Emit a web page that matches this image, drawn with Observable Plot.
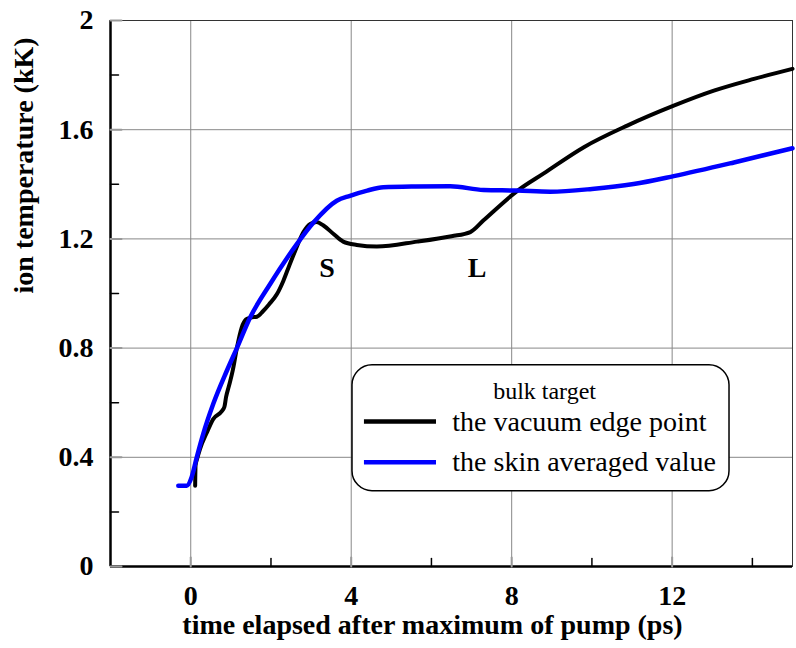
<!DOCTYPE html>
<html><head><meta charset="utf-8">
<script src="https://cdn.jsdelivr.net/npm/d3@7"></script>
<script src="https://cdn.jsdelivr.net/npm/@observablehq/plot@0.6"></script>
<style>body{margin:0;background:#fff} svg text{font-family:"Liberation Serif","Times New Roman",Times,serif !important;}</style>
</head><body><div id="chart"></div>
<script>
// vacuum edge point (black)
const edgeTime = [0.11,0.12,0.17,0.23,0.40,0.56,0.77,0.84,0.88,0.95,1.05,1.15,1.27,1.38,1.50,1.65,1.80,1.95,2.15,2.31,2.45,2.60,2.81,2.98,3.14,3.30,3.56,3.80,4.14,4.64,5.64,6.50,6.97,7.30,8.15,8.80,9.80,10.88,12.04,13.04,14.04,15.0];
const edgeTemp = [0.296,0.37,0.40,0.43,0.49,0.54,0.568,0.585,0.62,0.66,0.72,0.80,0.875,0.905,0.912,0.915,0.935,0.96,0.998,1.047,1.10,1.155,1.225,1.255,1.262,1.25,1.218,1.19,1.178,1.172,1.19,1.21,1.225,1.268,1.377,1.44,1.536,1.615,1.688,1.743,1.786,1.823];
// skin averaged value (blue)
const skinTime = [-0.31,-0.10,0.02,0.15,0.31,0.56,0.90,1.15,1.48,1.98,2.64,3.06,3.64,3.97,4.40,4.80,5.60,6.47,7.30,8.13,8.96,10.0,11.04,12.04,13.54,15.0];
const skinTemp = [0.296,0.296,0.326,0.40,0.485,0.595,0.717,0.80,0.912,1.035,1.18,1.26,1.34,1.358,1.377,1.389,1.392,1.393,1.379,1.377,1.373,1.383,1.401,1.43,1.48,1.532];

const xTicks = [0,4,8,12];
const yTicks = [0,0.4,0.8,1.2,1.6,2];
const xMinor = [2,6,10,14];
const yMinor = [0.2,0.6,1.0,1.4,1.8];
const xGrid = [0,4,8,12];
const yGrid = [0.4,0.8,1.2,1.6];
const seriesNames = ["the vacuum edge point","the skin averaged value"];
const seriesColors = ["black","#0000ff"];
const legendTitle = "bulk target";
const xLabel = "time elapsed after maximum of pump (ps)";
const yLabel = "ion temperature (kK)";
const annotations = [{label:"S", t:3.40, v:1.095},{label:"L", t:7.14, v:1.095}];

const edge = edgeTime.map((t,i)=>({t, v: edgeTemp[i]}));
const skin = skinTime.map((t,i)=>({t, v: skinTemp[i]}));
const tickShape = {draw(ctx, l){ ctx.moveTo(0,0); ctx.lineTo(0,-l); }};
const font = "'Liberation Serif', 'Times New Roman', serif";

const chart = Plot.plot({
  width: 796, height: 648,
  marginLeft: 110, marginRight: 4, marginTop: 20, marginBottom: 82,
  style: {fontFamily: font, background: "white"},
  x: {domain: [-2, 15]},
  y: {domain: [0, 2]},
  marks: [
    Plot.ruleX(xGrid, {stroke: "#888", strokeWidth: 1}),
    Plot.ruleY(yGrid, {stroke: "#888", strokeWidth: 1}),
    Plot.frame({stroke: "#333", strokeWidth: 1}),
    Plot.ruleX([-2], {stroke: "black", strokeWidth: 2.5}),
    Plot.ruleY([0], {stroke: "black", strokeWidth: 2.5}),
    Plot.vector(yMinor, {y: d=>d, frameAnchor: "left", rotate: 90, length: 8, anchor: "start", shape: tickShape, stroke: "black", strokeWidth: 1.5}),
    Plot.vector(yTicks, {y: d=>d, frameAnchor: "left", rotate: 90, length: 11, anchor: "start", shape: tickShape, stroke: "#999", strokeWidth: 2}),
    Plot.vector(xMinor, {x: d=>d, frameAnchor: "bottom", rotate: 0, length: 8, anchor: "start", shape: tickShape, stroke: "black", strokeWidth: 1.5}),
    Plot.vector(xTicks, {x: d=>d, frameAnchor: "bottom", rotate: 0, length: 9, anchor: "start", shape: tickShape, stroke: "#999", strokeWidth: 2}),
    Plot.axisY(yTicks, {tickSize: 0, tickPadding: 17, fontSize: 28, fontWeight: "bold", tickFormat: d => String(d), label: null}),
    Plot.axisX(xTicks, {tickSize: 0, tickPadding: 19, fontSize: 28, fontWeight: "bold", tickFormat: d => String(d), label: null}),
    Plot.text([yLabel], {text: d=>d, frameAnchor: "left", rotate: -90, dx: -86, fontSize: 28, fontWeight: "bold"}),
    Plot.text([xLabel], {text: d=>d, frameAnchor: "bottom", dx: -19, dy: 67, fontSize: 28, fontWeight: "bold"}),
    Plot.line(edge, {x: "t", y: "v", stroke: seriesColors[0], strokeWidth: 4, curve: "monotone-x"}),
    Plot.line(skin, {x: "t", y: "v", stroke: seriesColors[1], strokeWidth: 4.5, curve: "monotone-x"}),
    Plot.text(annotations, {x: "t", y: "v", text: "label", fontSize: 28, fontWeight: "bold"}),
    Plot.rect([0], {x1: 4.032, x2: 13.43, y1: 0.276, y2: 0.737, rx: 20, fill: "white", stroke: "black", strokeWidth: 1.5}),
    Plot.text([legendTitle], {text: d=>d, x: 8.82, y: 0.64, fontSize: 24}),
    Plot.ruleY([0.531], {x1: 4.33, x2: 6.126, stroke: seriesColors[0], strokeWidth: 4.5}),
    Plot.ruleY([0.382], {x1: 4.33, x2: 6.126, stroke: seriesColors[1], strokeWidth: 4.5}),
    Plot.text([seriesNames[0]], {text: d=>d, x: 6.52, y: 0.531, textAnchor: "start", fontSize: 28}),
    Plot.text([seriesNames[1]], {text: d=>d, x: 6.52, y: 0.382, textAnchor: "start", fontSize: 28})
  ]
});
document.getElementById("chart").appendChild(chart);
</script>
</body></html>
